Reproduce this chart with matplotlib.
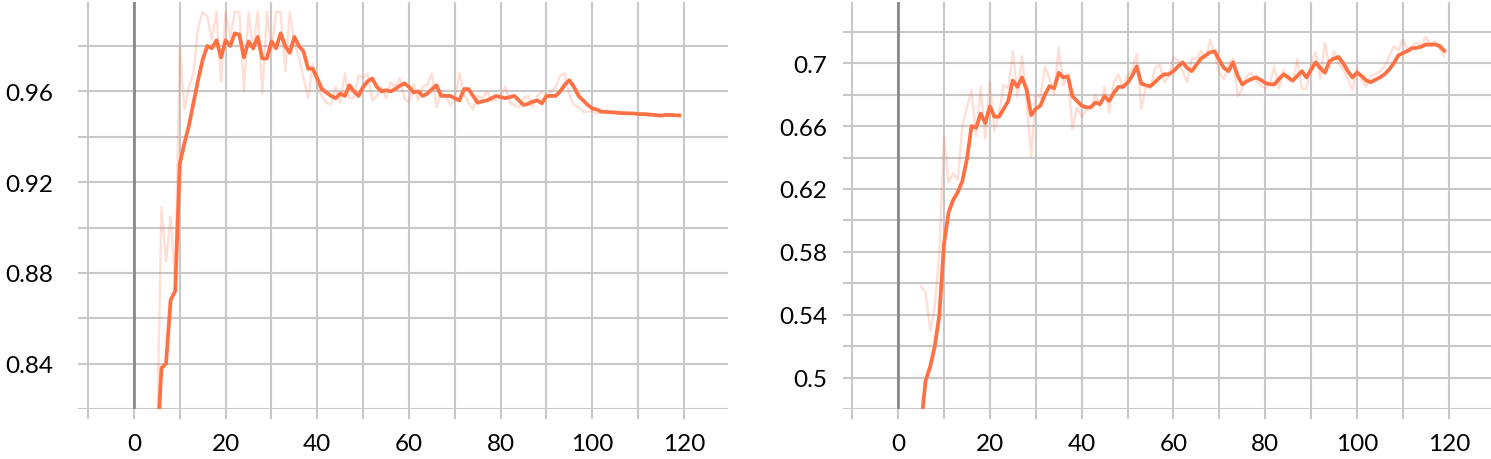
import matplotlib
matplotlib.use("Agg")
import matplotlib.pyplot as plt
from matplotlib.ticker import MultipleLocator, FixedLocator
import numpy as np

# ---------------- data ----------------
steps = list(range(5, 120))

left_smoothed = [
    0.800, 0.838, 0.840, 0.868, 0.872, 0.928, 0.937, 0.945, 0.955, 0.965,
    0.974, 0.980, 0.979, 0.9825, 0.975, 0.9825, 0.980, 0.9856, 0.985, 0.975,
    0.982, 0.979, 0.984, 0.9745, 0.9745, 0.982, 0.979, 0.9856, 0.980, 0.977,
    0.984, 0.980, 0.9776, 0.970, 0.970, 0.9657, 0.961, 0.9595, 0.958, 0.957,
    0.959, 0.958, 0.9627, 0.960, 0.958, 0.962, 0.9645, 0.9657, 0.962, 0.960,
    0.9605, 0.960, 0.961, 0.9625, 0.9635, 0.962, 0.9595, 0.960, 0.958, 0.959,
    0.961, 0.9627, 0.958, 0.958, 0.958, 0.957, 0.956, 0.961, 0.961, 0.958,
    0.955, 0.9556, 0.956, 0.957, 0.958, 0.9575, 0.957, 0.9575, 0.958, 0.956,
    0.954, 0.9545, 0.9555, 0.956, 0.9547, 0.958, 0.958, 0.958, 0.960, 0.963,
    0.9649, 0.962, 0.958, 0.956, 0.954, 0.9525, 0.952, 0.951, 0.951, 0.9508,
    0.9507, 0.9505, 0.9504, 0.9503, 0.9503, 0.950, 0.950, 0.9499, 0.9497, 0.9495,
    0.9493, 0.9496, 0.9496, 0.9495, 0.9494,
]
left_raw = [
    0.800, 0.909, 0.885, 0.905, 0.875, 0.980, 0.952, 0.962, 0.968, 0.988,
    0.995, 0.993, 0.983, 0.995, 0.964, 0.995, 0.984, 0.995, 0.995, 0.960,
    0.995, 0.978, 0.995, 0.959, 0.995, 0.978, 0.995, 0.995, 0.969, 0.995,
    0.982, 0.975, 0.966, 0.957, 0.972, 0.962, 0.958, 0.955, 0.954, 0.962,
    0.955, 0.968, 0.957, 0.957, 0.967, 0.966, 0.968, 0.956, 0.958, 0.962,
    0.957, 0.964, 0.962, 0.966, 0.957, 0.955, 0.963, 0.956, 0.962, 0.963,
    0.968, 0.953, 0.960, 0.958, 0.954, 0.956, 0.968, 0.959, 0.955, 0.952,
    0.958, 0.957, 0.960, 0.956, 0.956, 0.958, 0.962, 0.955, 0.954, 0.953,
    0.957, 0.958, 0.953, 0.958, 0.960, 0.958, 0.960, 0.962, 0.967, 0.968,
    0.958, 0.954, 0.953, 0.951, 0.951, 0.9515, 0.950, 0.951, 0.9505, 0.9508,
    0.9503, 0.9506, 0.9502, 0.9504, 0.9500, 0.9502, 0.9498, 0.9500, 0.9495, 0.9493,
    0.9496, 0.9497, 0.9494, 0.9496, 0.9493,
]

right_smoothed = [
    0.470, 0.498, 0.507, 0.520, 0.540, 0.585, 0.605, 0.613, 0.618, 0.625,
    0.639, 0.660, 0.659, 0.668, 0.662, 0.6726, 0.666, 0.666, 0.671, 0.676,
    0.689, 0.685, 0.691, 0.6835, 0.667, 0.671, 0.673, 0.680, 0.6855, 0.684,
    0.694, 0.691, 0.6917, 0.679, 0.676, 0.673, 0.672, 0.672, 0.675, 0.674,
    0.679, 0.676, 0.681, 0.685, 0.685, 0.6875, 0.692, 0.698, 0.687, 0.686,
    0.6855, 0.688, 0.691, 0.693, 0.693, 0.695, 0.698, 0.7006, 0.697, 0.695,
    0.699, 0.703, 0.705, 0.707, 0.7076, 0.702, 0.697, 0.695, 0.7006, 0.692,
    0.6866, 0.6885, 0.690, 0.691, 0.6895, 0.6875, 0.6866, 0.6866, 0.690, 0.693,
    0.691, 0.689, 0.692, 0.695, 0.691, 0.696, 0.7006, 0.697, 0.694, 0.7013,
    0.703, 0.704, 0.700, 0.695, 0.691, 0.694, 0.692, 0.689, 0.688, 0.6895,
    0.691, 0.693, 0.696, 0.700, 0.705, 0.7065, 0.7078, 0.7096, 0.7098, 0.7105,
    0.712, 0.7118, 0.712, 0.711, 0.708,
]
right_raw = [
    0.558, 0.554, 0.530, 0.545, 0.580, 0.6535, 0.624, 0.630, 0.626, 0.660,
    0.672, 0.683, 0.6535, 0.685, 0.652, 0.688, 0.657, 0.668, 0.686, 0.684,
    0.7076, 0.679, 0.7045, 0.675, 0.641, 0.680, 0.678, 0.698, 0.690, 0.680,
    0.710, 0.686, 0.693, 0.658, 0.672, 0.666, 0.670, 0.672, 0.680, 0.672,
    0.685, 0.669, 0.688, 0.693, 0.684, 0.692, 0.696, 0.7057, 0.671, 0.685,
    0.684, 0.697, 0.699, 0.688, 0.692, 0.704, 0.702, 0.695, 0.688, 0.703,
    0.703, 0.708, 0.703, 0.715, 0.706, 0.694, 0.690, 0.699, 0.703, 0.679,
    0.684, 0.692, 0.694, 0.689, 0.686, 0.684, 0.687, 0.698, 0.684, 0.696,
    0.689, 0.688, 0.7026, 0.684, 0.6835, 0.700, 0.707, 0.690, 0.7133, 0.697,
    0.708, 0.700, 0.696, 0.690, 0.683, 0.697, 0.689, 0.685, 0.692, 0.693,
    0.695, 0.698, 0.704, 0.711, 0.708, 0.715, 0.709, 0.711, 0.713, 0.711,
    0.717, 0.712, 0.714, 0.709, 0.7045,
]

x_ticks = [0, 20, 40, 60, 80, 100, 120]
left_yticks = [0.84, 0.88, 0.92, 0.96]
left_ylabels = ["0.84", "0.88", "0.92", "0.96"]
right_yticks = [0.5, 0.54, 0.58, 0.62, 0.66, 0.7]
right_ylabels = ["0.5", "0.54", "0.58", "0.62", "0.66", "0.7"]

# ---------------- style ----------------
plt.rcParams['font.family'] = ['Lato', 'DejaVu Sans']
ORANGE = '#ff7043'
GRID = '#c8c8c8'
ZERO = '#858585'

W, H = 1491, 460
fig = plt.figure(figsize=(W / 100, H / 100), dpi=100)
fig.patch.set_facecolor('white')


def px_axes(x0, x1, y0, y1):
    return fig.add_axes([x0 / W, 1 - y1 / H, (x1 - x0) / W, (y1 - y0) / H])


def style(ax, xlim, ylim, yticks, ylabels, ypad):
    ax.set_xlim(*xlim)
    ax.set_ylim(*ylim)
    for s in ax.spines.values():
        s.set_visible(False)
    ax.xaxis.set_major_locator(FixedLocator(x_ticks))
    ax.xaxis.set_minor_locator(MultipleLocator(10))
    ax.set_xticklabels([str(t) for t in x_ticks])
    ax.set_yticks(yticks)
    ax.set_yticklabels(ylabels)
    ax.yaxis.set_minor_locator(MultipleLocator(0.02))
    ax.tick_params(axis='x', which='both', direction='out', length=7.2,
                   width=1.5, color=GRID, labelsize=17.5, pad=10.0)
    ax.tick_params(axis='y', which='both', length=0, labelsize=17.5, pad=ypad)
    ax.grid(True, which='both', color=GRID, linewidth=1.5)
    ax.set_axisbelow(True)
    ax.axvline(0, color=ZERO, linewidth=1.9, zorder=1)


ax1 = px_axes(78, 728, 3, 410)
style(ax1, (-12.2, 129.6), (0.82, 0.9994), left_yticks, left_ylabels, 18)
ax1.plot(steps, left_raw, color=ORANGE, alpha=0.22, linewidth=1.7, zorder=2)
ax1.plot(steps, left_smoothed, color=ORANGE, linewidth=2.7, zorder=3,
         solid_joinstyle='round')

ax2 = px_axes(843, 1491, 3, 410)
style(ax2, (-12.0, 129.2), (0.48, 0.739), right_yticks, right_ylabels, 11.5)
ax2.plot(steps, right_raw, color=ORANGE, alpha=0.22, linewidth=1.7, zorder=2)
ax2.plot(steps, right_smoothed, color=ORANGE, linewidth=2.7, zorder=3,
         solid_joinstyle='round')

fig.savefig('out.png', dpi=100, facecolor='white')
